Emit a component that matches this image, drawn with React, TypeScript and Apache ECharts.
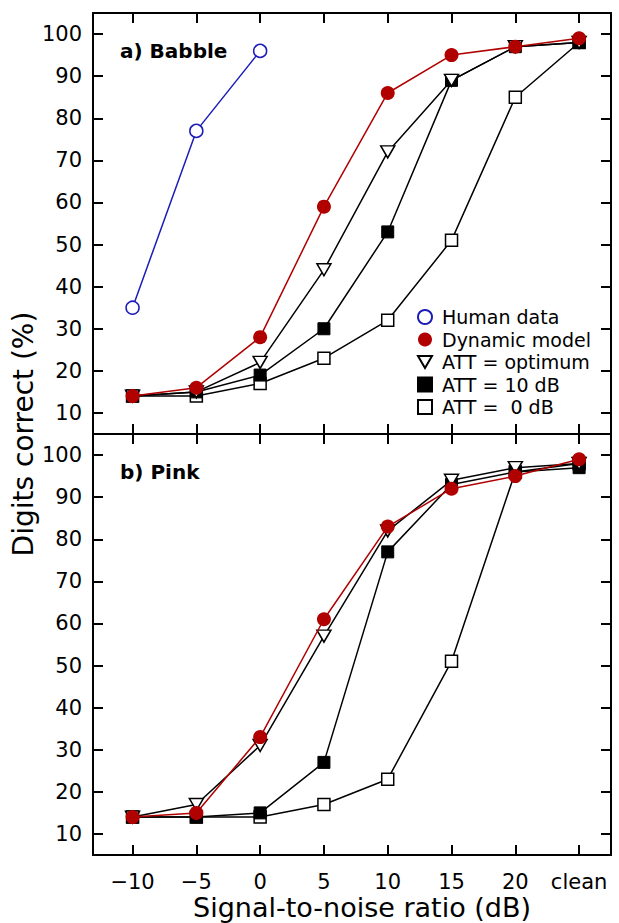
import React, { useEffect, useRef } from "react";
import * as echarts from "echarts";

// ---- data ----
const xTicks = [-10, -5, 0, 5, 10, 15, 20, 25];
const xTickLabels = ["\u221210", "\u22125", "0", "5", "10", "15", "20", "clean"];
const yTicks = [10, 20, 30, 40, 50, 60, 70, 80, 90, 100];

const humanX = [-10, -5, 0];
const humanBabble = [35, 77, 96];

const dynamicBabble = [14, 16, 28, 59, 86, 95, 97, 99];
const optimumBabble = [14, 15, 22, 44, 72, 89, 97, 98];
const att10Babble = [14, 15, 19, 30, 53, 89, 97, 98];
const att0Babble = [14, 14, 17, 23, 32, 51, 85, 98];

const dynamicPink = [14, 15, 33, 61, 83, 92, 95, 99];
const optimumPink = [14, 17, 31, 57, 82, 94, 97, 98];
const att10Pink = [14, 14, 15, 27, 77, 93, 96, 97];
const att0Pink = [14, 14, 14, 17, 23, 51, 96, 98];

const NAMES = {
  human: "Human data",
  dyn: "Dynamic model",
  opt: "ATT = optimum",
  a10: "ATT = 10 dB",
  a0: "ATT =  0 dB",
};

const FONT = "DejaVu Sans";
const RED = "#b00000";
const BLUE = "#1c1cb8";
const DOWN_TRIANGLE = "path://M0,0 L14,0 L7,12 Z";

const pairs = (xs: number[], ys: number[]) => xs.map((x, i) => [x, ys[i]]);

export default function App() {
  const ref = useRef<HTMLDivElement>(null);
  useEffect(() => {
    if (!ref.current) return;
    const chart = echarts.init(ref.current, undefined, { renderer: "svg" });

    const lineStyleBlack = { color: "#000", width: 1.5 };
    const mkSeries = (grid: number, panel: any) => {
      const xi = grid * 2;
      const yi = grid * 2;
      const list: any[] = [
        {
          name: NAMES.a0,
          type: "line",
          xAxisIndex: xi,
          yAxisIndex: yi,
          data: pairs(xTicks, panel.a0),
          symbol: "rect",
          symbolSize: 12,
          lineStyle: lineStyleBlack,
          itemStyle: { color: "#fff", borderColor: "#000", borderWidth: 1.5 },
          z: 2,
        },
        {
          name: NAMES.a10,
          type: "line",
          xAxisIndex: xi,
          yAxisIndex: yi,
          data: pairs(xTicks, panel.a10),
          symbol: "rect",
          symbolSize: 12,
          lineStyle: lineStyleBlack,
          itemStyle: { color: "#000", borderColor: "#000", borderWidth: 1 },
          z: 3,
        },
        {
          name: NAMES.opt,
          type: "line",
          xAxisIndex: xi,
          yAxisIndex: yi,
          data: pairs(xTicks, panel.opt),
          symbol: DOWN_TRIANGLE,
          symbolSize: [14, 12],
          lineStyle: lineStyleBlack,
          itemStyle: { color: "#fff", borderColor: "#000", borderWidth: 1.5 },
          z: 4,
        },
        {
          name: NAMES.dyn,
          type: "line",
          xAxisIndex: xi,
          yAxisIndex: yi,
          data: pairs(xTicks, panel.dyn),
          symbol: "circle",
          symbolSize: 14,
          lineStyle: { color: RED, width: 1.5 },
          itemStyle: { color: RED, borderColor: RED, borderWidth: 0 },
          z: 5,
        },
      ];
      if (panel.human) {
        list.push({
          name: NAMES.human,
          type: "line",
          xAxisIndex: xi,
          yAxisIndex: yi,
          data: pairs(humanX, panel.human),
          symbol: "circle",
          symbolSize: 13,
          lineStyle: { color: BLUE, width: 1.5 },
          itemStyle: { color: "#fff", borderColor: BLUE, borderWidth: 1.5 },
          z: 6,
        });
      }
      return list;
    };

    const axisLine = { show: true, onZero: false, lineStyle: { color: "#000", width: 2 } };
    const tick = (vals: number[]) => ({
      show: true,
      inside: true,
      length: 10,
      lineStyle: { color: "#000", width: 2 },
      customValues: vals,
    });
    const xAxisBase = (grid: number, position: string, labels: boolean) => ({
      type: "value",
      gridIndex: grid,
      position,
      min: -13.1,
      max: 27.5,
      axisLine,
      axisTick: tick(xTicks),
      splitLine: { show: false },
      axisLabel: labels
        ? {
            show: true,
            customValues: xTicks,
            formatter: (v: number) => xTickLabels[xTicks.indexOf(v)] ?? "",
            fontFamily: FONT,
            fontSize: 21,
            color: "#000",
            margin: 16,
          }
        : { show: false },
    });
    const yAxisBase = (grid: number, position: string, labels: boolean) => ({
      type: "value",
      gridIndex: grid,
      position,
      min: 5,
      max: 105,
      axisLine,
      axisTick: tick(yTicks),
      splitLine: { show: false },
      axisLabel: labels
        ? {
            show: true,
            customValues: yTicks,
            fontFamily: FONT,
            fontSize: 21,
            color: "#000",
            margin: 11,
          }
        : { show: false },
    });

    const option: any = {
      animation: false,
      backgroundColor: "#fff",
      grid: [
        { left: 93, top: 13, width: 518, height: 421 },
        { left: 93, top: 434, width: 518, height: 421 },
      ],
      xAxis: [
        xAxisBase(0, "bottom", false),
        xAxisBase(0, "top", false),
        xAxisBase(1, "bottom", true),
        xAxisBase(1, "top", false),
      ],
      yAxis: [
        yAxisBase(0, "left", true),
        yAxisBase(0, "right", false),
        yAxisBase(1, "left", true),
        yAxisBase(1, "right", false),
      ],
      legend: {
        orient: "vertical",
        left: 412,
        top: 302,
        itemWidth: 14,
        itemHeight: 14,
        itemGap: 2.5,
        selectedMode: false,
        textStyle: { fontFamily: FONT, fontSize: 19, color: "#000", lineHeight: 20, padding: [0, 0, 0, 5] },
        data: [
          { name: NAMES.human, icon: "circle" },
          { name: NAMES.dyn, icon: "circle" },
          { name: NAMES.opt, icon: DOWN_TRIANGLE },
          { name: NAMES.a10, icon: "rect" },
          { name: NAMES.a0, icon: "rect" },
        ],
      },
      graphic: [
        {
          type: "text",
          x: 120,
          y: 51,
          style: { text: "a) Babble", font: `bold 20px '${FONT}'`, fill: "#000", verticalAlign: "middle" },
        },
        {
          type: "text",
          x: 120,
          y: 472,
          style: { text: "b) Pink", font: `bold 20px '${FONT}'`, fill: "#000", verticalAlign: "middle" },
        },
        {
          type: "text",
          x: 23,
          y: 434,
          rotation: Math.PI / 2,
          style: {
            text: "Digits correct (%)",
            font: `28px '${FONT}'`,
            fill: "#000",
            align: "center",
            verticalAlign: "middle",
          },
        },
        {
          type: "text",
          x: 362,
          y: 907,
          style: {
            text: "Signal-to-noise ratio (dB)",
            font: `27px '${FONT}'`,
            fill: "#000",
            align: "center",
            verticalAlign: "middle",
          },
        },
      ],
      series: [
        ...mkSeries(0, { a0: att0Babble, a10: att10Babble, opt: optimumBabble, dyn: dynamicBabble, human: humanBabble }),
        ...mkSeries(1, { a0: att0Pink, a10: att10Pink, opt: optimumPink, dyn: dynamicPink }),
      ],
    };
    chart.setOption(option);
    return () => chart.dispose();
  }, []);

  return (
    <div
      ref={ref}
      style={{ position: "absolute", left: 0, top: 0, width: 619, height: 923, background: "#fff" }}
    />
  );
}
